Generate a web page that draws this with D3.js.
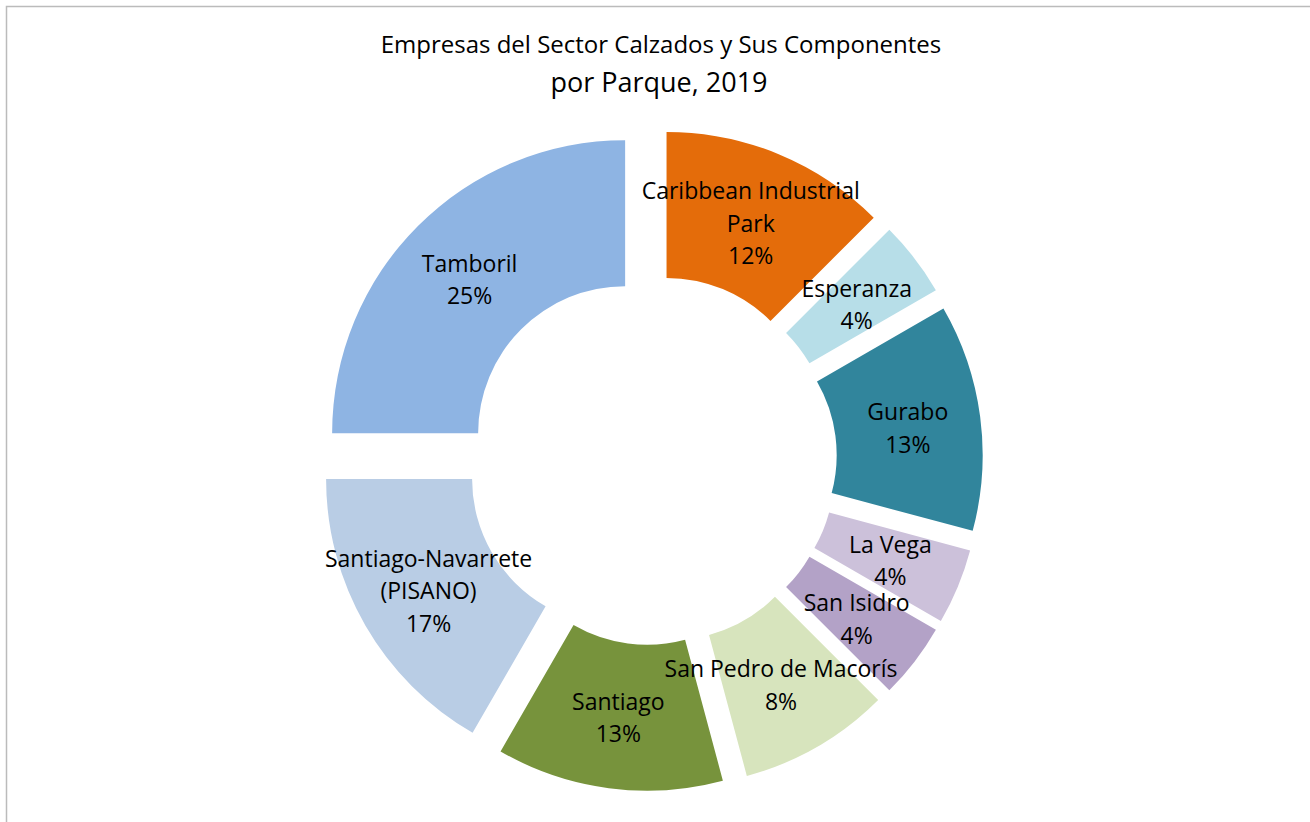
<!DOCTYPE html>
<html>
<head>
<meta charset="utf-8">
<script src="https://cdn.jsdelivr.net/npm/d3@7"></script>
<style>
  html, body { margin: 0; padding: 0; background: #ffffff; }
  svg { display: block; }
  text { font-family: "Open Sans", "Noto Sans", sans-serif; fill: #000; }
</style>
</head>
<body>
<svg id="chart" width="1310" height="822"></svg>
<script>
// ---- data ----
const titleLines = ["Empresas del Sector Calzados y Sus Componentes", "por Parque, 2019"];
const categories = [
  "Caribbean Industrial Park", "Esperanza", "Gurabo", "La Vega", "San Isidro",
  "San Pedro de Macorís", "Santiago", "Santiago-Navarrete (PISANO)", "Tamboril"
];
// number of companies per park (slice sizes)
const empresas = [3, 1, 3, 1, 1, 2, 3, 4, 6];
// percentage labels as displayed
const pctLabels = ["12%", "4%", "13%", "4%", "4%", "8%", "13%", "17%", "25%"];
// how each category name wraps in its label
const labelLines = [
  ["Caribbean Industrial", "Park"], ["Esperanza"], ["Gurabo"], ["La Vega"], ["San Isidro"],
  ["San Pedro de Macorís"], ["Santiago"], ["Santiago-Navarrete", "(PISANO)"], ["Tamboril"]
];
const colors = ["#E46C0A", "#B7DEE8", "#31859C", "#CCC1DA", "#B3A2C7",
                "#D7E4BD", "#77933C", "#B9CDE5", "#8EB4E3"];

// ---- layout ----
const W = 1310, H = 822;
const cx = 652, cy = 460;
const rOuter = 293, rInner = 147, explode = 38;
const lineGap = 32.5;

const svg = d3.select("#chart");

// chart frame (left and top edges visible)
svg.append("path")
  .attr("d", `M6.5,${H} L6.5,6.5 L${W},6.5`)
  .attr("fill", "none").attr("stroke", "#BBBBBB").attr("stroke-width", 1.5);

// title
svg.append("text").attr("x", 661).attr("y", 53).attr("text-anchor", "middle")
  .style("font-size", "24px").text(titleLines[0]);
svg.append("text").attr("x", 659).attr("y", 91.5).attr("text-anchor", "middle")
  .style("font-size", "27px").text(titleLines[1]);

const data = categories.map((c, i) => ({ name: c, value: empresas[i], pct: pctLabels[i], lines: labelLines[i] }));

const pie = d3.pie().sort(null).value(d => d.value).startAngle(0).endAngle(2 * Math.PI);
const arcs = pie(data);
const arc = d3.arc().innerRadius(rInner).outerRadius(rOuter);
const color = d3.scaleOrdinal().domain(categories).range(colors);
const mid = d => (d.startAngle + d.endAngle) / 2;
const shift = d => [explode * Math.sin(mid(d)), -explode * Math.cos(mid(d))];

const g = svg.append("g").attr("transform", `translate(${cx},${cy})`);
const gSlices = g.append("g");
const gLabels = g.append("g");

gSlices.selectAll("path").data(arcs).join("path")
  .attr("transform", d => `translate(${shift(d)})`)
  .attr("d", arc)
  .attr("fill", d => color(d.data.name));

// labels (drawn above all slices)
const rMid = (rInner + rOuter) / 2;
gLabels.selectAll("text").data(arcs).join("text")
  .attr("text-anchor", "middle")
  .style("font-size", "23px")
  .each(function(d) {
    const a = mid(d), s = shift(d);
    const lx = s[0] + rMid * Math.sin(a), ly = s[1] - rMid * Math.cos(a) + 2;
    const lines = d.data.lines.concat([d.data.pct]);
    const n = lines.length;
    const t = d3.select(this);
    lines.forEach((ln, i) => {
      t.append("tspan")
        .attr("x", lx)
        .attr("y", ly + (i - (n - 1) / 2) * lineGap)
        .attr("dy", "0.36em")
        .text(ln);
    });
  });
</script>
</body>
</html>
